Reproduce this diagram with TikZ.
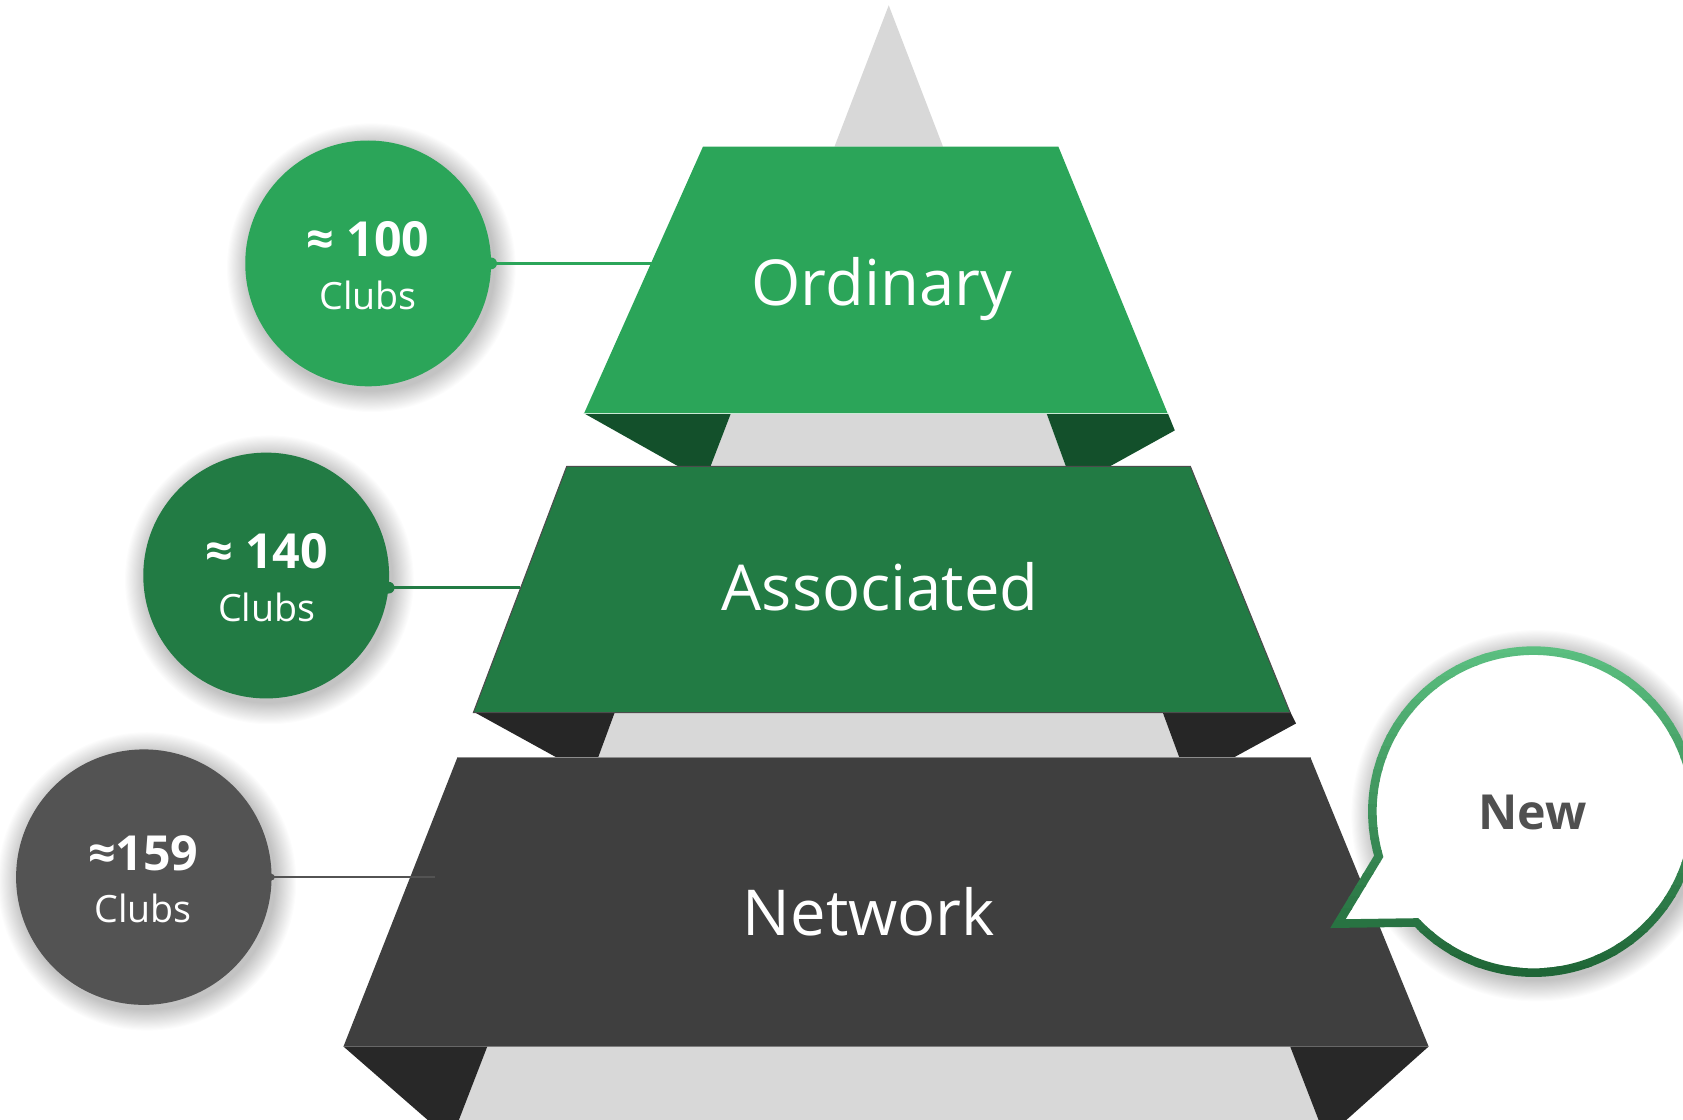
\documentclass[tikz,border=0pt]{standalone}
\usepackage{fontspec}
\setmainfont{Open Sans}
\usetikzlibrary{calc}
\definecolor{ordg}{HTML}{2BA559}
\definecolor{ordflap}{HTML}{13502B}
\definecolor{assg}{HTML}{227B44}
\definecolor{assflap}{HTML}{262626}
\definecolor{netg}{HTML}{3F3F3F}
\definecolor{netflap}{HTML}{282828}
\definecolor{graybg}{HTML}{D8D8D8}
\definecolor{netc}{HTML}{535353}
\definecolor{bublight}{HTML}{5BBF80}
\definecolor{bubdark}{HTML}{1D6234}
\definecolor{newgray}{HTML}{505050}
\tikzset{
  circ/.style={circle, minimum size=#1, inner sep=0pt, outer sep=0pt},
  shadowlayer/.style={fill=black, opacity=0.011},
  numtxt/.style={text=white, font=\fontsize{45}{54}\selectfont\bfseries, inner sep=0pt, anchor=base},
  clubtxt/.style={text=white, font=\fontsize{35}{42}\selectfont, inner sep=0pt, anchor=base},
  tiertxt/.style={text=white, font=\fontsize{59}{70}\selectfont, inner sep=0pt, anchor=base},
  newtxt/.style={text=newgray, font=\fontsize{45}{54}\selectfont\bfseries, inner sep=0pt, anchor=base},
  conn/.style={line width=2.5pt},
}
\newcommand\mysoftshadow[3]{%
  \foreach \k in {1,...,20} {\fill[shadowlayer] ($(#1,#2)+(3,4)$) circle ({#3+\k});}%
}
\begin{document}
\begin{tikzpicture}[x=1pt,y=-1pt]
\useasboundingbox (0,0) rectangle (1568,1043);
\fill[white] (0,0) rectangle (1568,1043);
% gray backbone pieces
\fill[graybg] (828,5) -- (878.5,136.5) -- (777.5,136.5) -- cycle;
\fill[graybg] (681,385) -- (975,385) -- (993,435) -- (662,435) -- cycle;
\fill[graybg] (573,663) -- (1083,663) -- (1099,707) -- (557,707) -- cycle;
\fill[graybg] (454,975) -- (1202,975) -- (1231,1050) -- (425,1050) -- cycle;
% flaps
\fill[ordflap] (544,385) -- (632,434.5) -- (662,434.5) -- (681,385) -- cycle;
\fill[ordflap] (1088,385) -- (1094.5,401) -- (1034,434.5) -- (993,434.5) -- (975,385) -- cycle;
\fill[assflap] (441,663) -- (520,706.5) -- (557,706.5) -- (573,663) -- cycle;
\fill[assflap] (1202,663) -- (1207.5,674) -- (1148,706.5) -- (1099,706.5) -- (1083,663) -- cycle;
\fill[netflap] (320,975) -- (406,1050) -- (425,1050) -- (454,975) -- cycle;
\fill[netflap] (1331,975) -- (1247,1050) -- (1231,1050) -- (1202,975) -- cycle;
% tiers
\fill[ordg] (655,136.5) -- (986,136.5) -- (1088,385.5) -- (544,385.5) -- cycle;
\draw[white!75!ordg, line width=1pt] (544,385.5) -- (1088,385.5);
\filldraw[fill=assg, draw=black!70, line width=1pt] (528,434.5) -- (1109,434.5) -- (1202,664) -- (441,664) -- cycle;
\fill[netg] (426,706) -- (1221,706) -- (1331,975) -- (320,975) -- cycle;
\draw[black!45, line width=1pt] (426,706) -- (1221,706);
% tier labels
\node[tiertxt] (tOrd) at (821.5,284.5) {Ordinary};
\node[tiertxt] (tAss) at (820,569) {Associated};
\node[tiertxt] (tNet) at (809.5,872) {Network};
% circle shadows
\mysoftshadow{343}{245.4}{114.5}
\mysoftshadow{248}{536.2}{114.5}
\mysoftshadow{134}{817.2}{119}
% circles
\node[circ=229pt, fill=ordg] (c1) at (343,245.4) {};
\node[circ=229pt, fill=assg] (c2) at (248,536.2) {};
\node[circ=238pt, fill=netc] (c3) at (134,817.2) {};
\node[numtxt] (n1) at (343,239) {≈ 100};
\node[clubtxt] (l1) at (343,288.8) {Clubs};
\node[numtxt] (n2) at (248.5,529.5) {≈ 140};
\node[clubtxt] (l2) at (248.5,579.2) {Clubs};
\node[numtxt] (n3) at (133.5,810.6) {≈159};
\node[clubtxt] (l3) at (133.5,859.7) {Clubs};
% connectors
\coordinate (e1) at (607,245.4);
\coordinate (e2) at (484.5,547.5);
\coordinate (e3) at (405.3,817.2);
\draw[conn, draw=ordg] (c1.east) -- (e1);
\fill[ordg] (c1.east) circle (5.5);
\draw[conn, draw=assg] (c2.-5.7 |- e2) -- (e2);
\fill[assg] (c2.-5.7 |- e2) circle (5.5);
\draw[conn, draw=netc] (c3.east) -- (e3);
\fill[netc] (c3.east) circle (3);
% speech bubble
\mysoftshadow{1429}{756}{153}
\fill[white, save path=\bubpath]
  (1284.5,797.8) arc[start angle=163.9, end angle=496.5, radius=150] -- (1246.5,860.5) -- cycle;
\foreach \i in {0,...,29} {
  \pgfmathsetmacro\ya{598+\i*10.8}
  \pgfmathsetmacro\yb{\ya+11.5}
  \pgfmathtruncatemacro\pc{100*\i/29}
  \begin{scope}
    \clip (1200,\ya) rectangle (1600,\yb);
    \draw[draw=bubdark!\pc!bublight, line width=8pt, line join=miter, use path=\bubpath];
  \end{scope}
}
\node[newtxt] (nw) at (1428,773) {New};
\end{tikzpicture}
\end{document}
